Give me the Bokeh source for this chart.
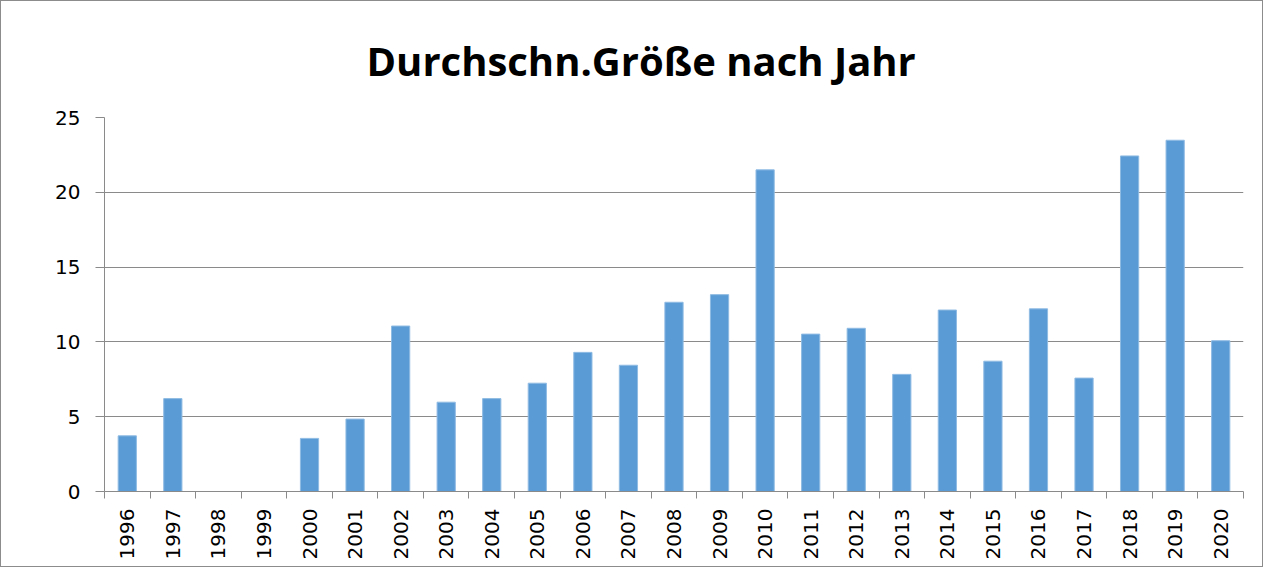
import math
from bokeh.plotting import figure
from bokeh.models import Range1d, FixedTicker, ColumnDataSource
from bokeh.embed import file_html
from bokeh.resources import INLINE

title_text = "Durchschn.Größe nach Jahr"
years = [1996, 1997, 1998, 1999, 2000, 2001, 2002, 2003, 2004, 2005, 2006, 2007, 2008,
         2009, 2010, 2011, 2012, 2013, 2014, 2015, 2016, 2017, 2018, 2019, 2020]
values = [3.72, 6.21, 0, 0, 3.55, 4.84, 11.06, 5.97, 6.21, 7.24, 9.30, 8.44, 12.65,
          13.16, 21.50, 10.52, 10.91, 7.83, 12.13, 8.71, 12.21, 7.58, 22.43, 23.48, 10.08]
y_ticks = [0, 5, 10, 15, 20, 25]

src = ColumnDataSource(dict(x=years, top=values))

p = figure(width=1263, height=567, output_backend="svg", toolbar_location=None,
           x_range=Range1d(years[0] - 0.5, years[-1] + 0.5), y_range=Range1d(0, 25),
           min_border_left=103, min_border_right=21, min_border_top=116, min_border_bottom=77,
           title=title_text)
p.styles = {"border": "1px solid #8c8c8c"}
p.outline_line_color = None
p.background_fill_color = "white"
p.border_fill_color = "white"

p.title.align = "left"
p.title.offset = 262
p.title.standoff = 59
p.title.text_font = "Open Sans"
p.title.text_font_style = "bold"
p.title.text_font_size = "40px"
p.title.text_color = "black"

p.vbar(x="x", top="top", width=0.40, source=src, fill_color="#5B9BD5", line_color="#8fbbe3", line_width=1)

gray = "#8a8a8a"
p.xgrid.visible = False
p.ygrid.ticker = FixedTicker(ticks=y_ticks)
p.ygrid.grid_line_color = gray
p.ygrid.grid_line_width = 1

xa = p.xaxis[0]
xa.ticker = FixedTicker(ticks=years, minor_ticks=[y - 0.5 for y in years] + [years[-1] + 0.5])
xa.major_label_overrides = {y: str(y) for y in years}
xa.major_label_orientation = math.pi / 2
xa.major_tick_out = 0
xa.major_tick_in = 0
xa.minor_tick_out = 7
xa.minor_tick_in = 0
xa.minor_tick_line_color = gray
xa.axis_line_color = gray
xa.major_label_standoff = 10
xa.major_label_text_font = "DejaVu Sans"
xa.major_label_text_font_size = "20px"
xa.major_label_text_color = "black"

ya = p.yaxis[0]
ya.ticker = FixedTicker(ticks=y_ticks)
ya.major_tick_out = 9
ya.major_tick_in = 0
ya.major_tick_line_color = gray
ya.minor_tick_line_color = None
ya.axis_line_color = gray
ya.major_label_standoff = 15
ya.major_label_text_font = "DejaVu Sans"
ya.major_label_text_font_size = "20px"
ya.major_label_text_color = "black"

open("out.html", "w").write(file_html(p, INLINE))
